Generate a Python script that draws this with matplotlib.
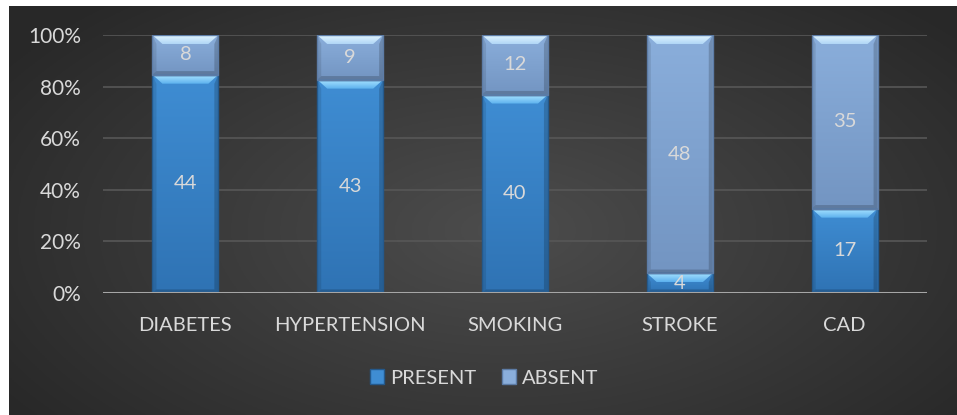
import numpy as np
import matplotlib
matplotlib.use("Agg")
import matplotlib.pyplot as plt
from matplotlib.patches import Polygon, Rectangle
from matplotlib.colors import to_rgb

categories = ["DIABETES", "HYPERTENSION", "SMOKING", "STROKE", "CAD"]
present = [44, 43, 40, 4, 17]
absent = [8, 9, 12, 48, 35]
yticks = [0, 0.2, 0.4, 0.6, 0.8, 1.0]
ytick_labels = ["0%", "20%", "40%", "60%", "80%", "100%"]

plt.rcParams['font.family'] = ['Lato', 'DejaVu Sans']
FS = 14.5

W, H = 957, 415
fig = plt.figure(figsize=(W / 100, H / 100), dpi=100)
fig.patch.set_facecolor("white")

# background radial gradient
bg = fig.add_axes([9 / W, 0, 1 - 9 / W, 1 - 6 / H])
bg.set_axis_off()
nx, ny = 400, 200
xx, yy = np.meshgrid(np.linspace(0, 1, nx), np.linspace(0, 1, ny))
r = np.sqrt(((xx - 0.52) / 0.62) ** 2 + ((yy - 0.45) / 0.75) ** 2)
r = np.clip(r, 0, 1)
val = 0.30 - 0.14 * r
bg.imshow(np.dstack([val, val, val]), extent=[0, 1, 0, 1], aspect="auto", origin="lower")
bg.set_xlim(0, 1)
bg.set_ylim(0, 1)

ax_l, ax_r, ax_t, ax_b = 103, 927, 35, 293
ax = fig.add_axes([ax_l / W, (H - ax_b) / H, (ax_r - ax_l) / W, (ax_b - ax_t) / H])
ax.patch.set_alpha(0)

n = len(categories)
x = np.arange(n)
tot = np.array(present) + np.array(absent)
p_frac = np.array(present) / tot
a_frac = np.array(absent) / tot
bw = 0.4

ax.set_xlim(-0.5, n - 0.5)
ax.set_ylim(0, 1)
for yv in yticks[1:]:
    ax.axhline(yv, color="#575757", lw=1.2, zorder=0)
ax.axhline(0, color="#a6a6a6", lw=2.2, zorder=5)

styles = {
    "p": dict(face_top="#3f8dd3", face_bot="#2f73b4", top_hi="#a6e2ff", top_lo="#5cb0ee",
              edge="#24598c"),
    "a": dict(face_top="#8aaedb", face_bot="#7395c2", top_hi="#e2f5ff", top_lo="#b0d6f6",
              edge="#5d7ca6"),
}

px_x = n / (ax_r - ax_l)
px_y = 1.0 / (ax_b - ax_t)
dx = 10 * px_x
dy = 9 * px_y


def vgrad(c_top, c_bot, m=64):
    t = np.linspace(0, 1, m)[:, None]
    a = np.array(to_rgb(c_bot))
    b = np.array(to_rgb(c_top))
    img = a[None, :] * (1 - t) + b[None, :] * t
    return img[:, None, :]


def bevel_bar(xc, bottom, height, st):
    x0, x1 = xc - bw / 2, xc + bw / 2
    y0, y1 = bottom, bottom + height
    rect = Rectangle((x0, y0), bw, height, facecolor="none", edgecolor=st["edge"], lw=1.0, zorder=4)
    ax.add_patch(rect)
    im = ax.imshow(vgrad(st["face_top"], st["face_bot"]), extent=[x0, x1, y0, y1],
                   origin="lower", aspect="auto", zorder=2, interpolation="bilinear")
    im.set_clip_path(rect)
    d_y = min(dy, height / 2)
    ax.add_patch(Polygon([(x0, y0), (x0, y1), (x0 + dx * 0.4, y1 - d_y), (x0 + dx * 0.4, y0 + d_y * 0.4)],
                         closed=True, color="black", lw=0, zorder=3, alpha=0.10))
    ax.add_patch(Polygon([(x1, y0), (x1, y1), (x1 - dx * 0.4, y1 - d_y), (x1 - dx * 0.4, y0 + d_y * 0.4)],
                         closed=True, color="black", lw=0, zorder=3, alpha=0.18))
    ax.add_patch(Polygon([(x0, y0), (x1, y0), (x1 - dx * 0.4, y0 + d_y * 0.4), (x0 + dx * 0.4, y0 + d_y * 0.4)],
                         closed=True, color="black", lw=0, zorder=3, alpha=0.18))
    top_poly = Polygon([(x0, y1), (x1, y1), (x1 - dx, y1 - d_y), (x0 + dx, y1 - d_y)],
                       closed=True, facecolor="none", lw=0, zorder=3)
    ax.add_patch(top_poly)
    im2 = ax.imshow(vgrad(st["top_hi"], st["top_lo"]), extent=[x0, x1, y1 - d_y, y1],
                    origin="lower", aspect="auto", zorder=3.5, interpolation="bilinear")
    im2.set_clip_path(top_poly)


for i in range(n):
    bevel_bar(x[i], 0, p_frac[i], styles["p"])
    bevel_bar(x[i], p_frac[i], a_frac[i], styles["a"])
    ax.text(x[i], p_frac[i] / 2, str(present[i]), ha="center", va="center",
            color="#d9d9d9", fontsize=FS, zorder=6)
    ax.text(x[i], p_frac[i] + a_frac[i] / 2, str(absent[i]), ha="center", va="center",
            color="#d9d9d9", fontsize=FS, zorder=6)

ax.set_xlim(-0.5, n - 0.5)
ax.set_ylim(0, 1)
ax.set_yticks(yticks)
ax.set_yticklabels(ytick_labels, color="#d9d9d9", fontsize=FS + 0.5)
ax.set_xticks(x)
ax.set_xticklabels(categories, color="#d9d9d9", fontsize=FS)
ax.tick_params(axis="y", length=0, pad=16)
ax.tick_params(axis="x", length=0, pad=17)
for s in ax.spines.values():
    s.set_visible(False)

handles = [Rectangle((0, 0), 1, 1, facecolor="#3f8dd3", edgecolor="#24598c"),
           Rectangle((0, 0), 1, 1, facecolor="#8aaedb", edgecolor="#5d7ca6")]
leg = fig.legend(handles, ["PRESENT", "ABSENT"], loc="center", bbox_to_anchor=(484 / W, 1 - 378 / H),
                 ncol=2, frameon=False, fontsize=FS, handlelength=0.7, handleheight=0.7,
                 handletextpad=0.3, columnspacing=1.3, labelcolor="#d9d9d9")

fig.savefig("out.png", dpi=100, facecolor=fig.get_facecolor())
